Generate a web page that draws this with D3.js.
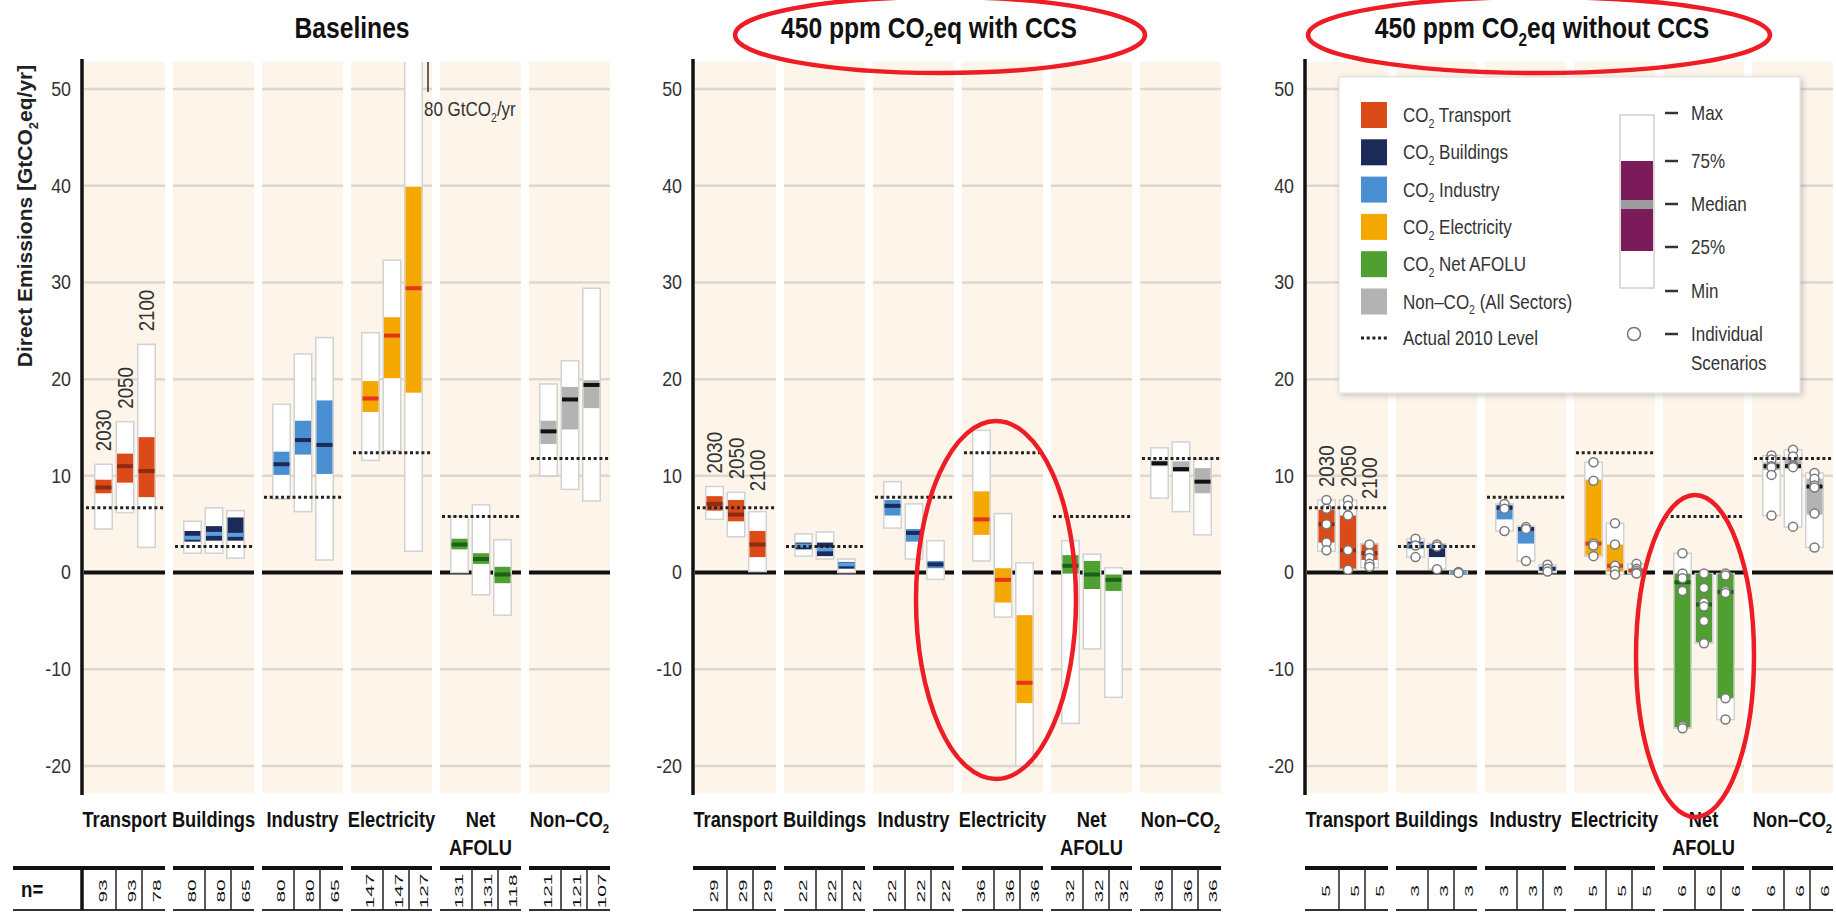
<!DOCTYPE html>
<html>
<head>
<meta charset="utf-8">
<script src="https://cdn.jsdelivr.net/npm/d3@7"></script>
<style>
  body { margin: 0; background: #fff; }
  text { font-family: "Liberation Sans", Arial, sans-serif; }
</style>
</head>
<body>
<div id="chart"></div>
<script>
// ---- data ----
const sectors = ["Transport", "Buildings", "Industry", "Electricity", "Net AFOLU", "Non-CO2"];
const sectorLabels = [["Transport"], ["Buildings"], ["Industry"], ["Electricity"], ["Net", "AFOLU"], ["Non–CO_2"]];
const years = ["2030", "2050", "2100"];
const yTicks = [50, 40, 30, 20, 10, 0, -10, -20];
const actual2010 = [6.7, 2.7, 7.8, 12.4, 5.8, 11.8];

// [min, 25%, median, 75%, max] for each sector and year
const baselineStats = [
  [[4.5, 8.2, 8.8, 9.6, 11.2], [6.2, 9.3, 11.0, 12.3, 15.6], [2.6, 7.8, 10.5, 14.0, 23.6]],
  [[2.0, 3.2, 3.6, 4.3, 5.3], [2.0, 3.3, 4.0, 4.8, 6.7], [1.5, 3.3, 3.9, 5.7, 6.4]],
  [[7.6, 10.1, 11.2, 12.5, 17.4], [6.3, 12.2, 13.7, 15.7, 22.6], [1.3, 10.2, 13.2, 17.8, 24.3]],
  [[11.6, 16.6, 18.0, 19.8, 24.8], [12.6, 20.1, 24.5, 26.4, 32.3], [2.2, 18.6, 29.4, 39.9, 80]],
  [[0.0, 2.4, 2.9, 3.5, 5.8], [-2.3, 0.9, 1.4, 2.0, 7.0], [-4.4, -1.1, -0.2, 0.6, 3.4]],
  [[10.0, 13.3, 14.6, 15.7, 19.5], [8.6, 14.8, 17.9, 19.2, 21.9], [7.4, 17.0, 19.4, 19.9, 29.4]]
];
const ccsStats = [
  [[5.5, 6.4, 7.1, 7.9, 8.9], [3.7, 5.3, 6.0, 7.5, 8.3], [0.1, 1.6, 2.9, 4.3, 6.3]],
  [[1.7, 2.4, 2.8, 3.1, 4.0], [1.4, 1.7, 2.4, 3.1, 4.2], [0.0, 0.4, 0.85, 1.1, 1.4]],
  [[4.6, 5.9, 6.9, 7.5, 9.4], [1.4, 3.2, 4.1, 4.5, 7.1], [-0.7, 0.45, 0.85, 1.2, 3.3]],
  [[1.2, 3.9, 5.5, 8.4, 14.7], [-4.6, -3.1, -0.75, 0.45, 6.1], [-20.0, -13.5, -11.4, -4.4, 1.0]],
  [[-15.6, -0.1, 0.7, 1.8, 3.3], [-7.9, -1.7, -0.2, 1.2, 1.9], [-12.9, -1.9, -0.75, -0.2, 0.5]],
  [[7.7, 11.0, 11.3, 11.6, 12.9], [6.3, 10.4, 10.7, 11.5, 13.5], [3.9, 8.2, 9.4, 10.8, 11.7]]
];
const noCcsStats = [
  [[2.2, 3.1, 5.0, 6.5, 7.5], [0.3, 0.4, 2.3, 5.9, 7.5], [0.5, 1.3, 2.0, 2.9, 3.0]],
  [[1.6, 2.5, 2.8, 3.2, 3.5], [0.35, 1.6, 2.7, 2.9, 3.0], [-0.1, -0.05, 0.0, 0.05, 0.1]],
  [[4.3, 5.5, 6.7, 7.0, 7.1], [1.2, 3.0, 4.5, 4.6, 4.8], [0.0, 0.2, 0.4, 0.6, 0.8]],
  [[1.7, 1.8, 3.0, 9.6, 11.4], [-0.2, 0.1, 0.7, 2.9, 5.1], [-0.1, 0.0, 0.2, 0.4, 0.9]],
  [[-16.1, -16.0, -1.0, -0.1, 2.0], [-7.3, -7.2, -3.3, -0.1, -0.1], [-15.2, -13.0, -2.0, -0.1, -0.1]],
  [[5.9, 10.6, 11.0, 11.4, 12.1], [4.7, 10.8, 11.0, 11.9, 12.7], [2.6, 6.0, 8.9, 9.7, 10.3]]
];
// individual scenarios, 450 ppm without CCS
const noCcsScenarios = [
  [[7.5, 6.6, 5.0, 3.1, 2.3], [7.5, 6.9, 5.9, 2.3, 0.3], [2.9, 2.0, 1.5, 0.9, 0.6]],
  [[3.5, 2.8, 1.6], [2.9, 2.7, 0.35], [0.05, 0.0, -0.05]],
  [[7.1, 6.6, 4.3], [4.7, 4.5, 1.2], [0.8, 0.4, 0.1]],
  [[11.4, 9.5, 3.0, 2.8, 1.7], [5.1, 2.9, 0.7, 0.2, -0.2], [0.9, 0.4, 0.2, 0.0, -0.1]],
  [[2.0, -0.1, -0.6, -1.9, -15.9, -16.1], [-0.1, -1.6, -3.1, -3.5, -5.0, -7.3], [-0.1, -0.3, -1.9, -2.1, -13.0, -15.2]],
  [[12.1, 11.7, 11.0, 10.9, 10.1, 5.9], [12.7, 12.0, 11.1, 11.0, 10.9, 4.75], [10.3, 9.7, 9.0, 8.8, 6.1, 2.6]]
];
const baselineN = [[93, 93, 78], [80, 80, 65], [80, 80, 65], [147, 147, 127], [131, 131, 118], [121, 121, 107]];
const ccsN = [[29, 29, 29], [22, 22, 22], [22, 22, 22], [36, 36, 36], [32, 32, 32], [36, 36, 36]];
const noCcsN = [[5, 5, 5], [3, 3, 3], [3, 3, 3], [5, 5, 5], [6, 6, 6], [6, 6, 6]];
const panelTitles = ["Baselines", "450 ppm CO_2eq with CCS", "450 ppm CO_2eq without CCS"];
const legendLabels = ["CO_2 Transport", "CO_2 Buildings", "CO_2 Industry", "CO_2 Electricity", "CO_2 Net AFOLU", "Non–CO_2 (All Sectors)"];
const boxKeyLabels = ["Max", "75%", "Median", "25%", "Min"];

// ---- styles ----
const sectorColors = ["#db4a17", "#1c2a57", "#4b8fd3", "#f5a800", "#4f9f31", "#b3b3b3"];
const medianColors = ["#8f2b12", "#5b9ee2", "#1c2a57", "#e2361d", "#1c6118", "#111111"];
const bgColor = "#fdf5ea";
const textColor = "#333";
const squeeze = 0.85;   // narrow the glyphs, the original uses a condensed face

const W = 1836, H = 912;
const svg = d3.select("#chart").append("svg")
  .attr("width", W).attr("height", H).attr("viewBox", `0 0 ${W} ${H}`);

// text with "_2" turned into a subscript 2
const richText = (sel, str, fs) => {
  str.split("_2").forEach((part, i) => {
    if (i > 0) {
      sel.append("tspan").attr("font-size", fs * 0.62).attr("dy", fs * 0.28).text("2");
      if (part !== "") sel.append("tspan").attr("dy", -fs * 0.28).text(part);
    } else if (part !== "") {
      sel.append("tspan").text(part);
    }
  });
  return sel;
};

// condensed text placed at x,y (optionally rotated)
const label = (parent, x, y, str, o = {}) => {
  const fs = o.size || 20;
  const sx = o.sx || squeeze;
  const t = parent.append("text")
    .attr("transform", `translate(${x},${y})${o.rotate ? ` rotate(${o.rotate})` : ""} scale(${sx},${o.sy || 1})`)
    .attr("font-size", fs)
    .attr("font-weight", o.weight || "normal")
    .attr("text-anchor", o.anchor || "start")
    .attr("fill", o.fill || textColor);
  return richText(t, String(str), fs);
};

const plotTop = 62, plotBottom = 793;
const y = d3.scaleLinear().domain([-20, 50]).range([766, 89]);
const axisXs = [82, 693, 1305];
const yearX = d3.scalePoint().domain(years).range([19.5, 62.5]);
const boxW = 17.5;
const tableTop = 868, tableBottom = 910;

const defs = svg.append("defs");
defs.append("clipPath").attr("id", "plotClip")
  .append("rect").attr("x", 0).attr("y", plotTop).attr("width", W).attr("height", plotBottom - plotTop);
defs.append("filter").attr("id", "shadow").attr("x", "-5%").attr("y", "-5%").attr("width", "112%").attr("height", "115%")
  .append("feDropShadow").attr("dx", 2).attr("dy", 2).attr("stdDeviation", 3).attr("flood-opacity", 0.22);

const panels = [
  {title: panelTitles[0], titleX: 352, stats: baselineStats, n: baselineN, points: null},
  {title: panelTitles[1], titleX: 929, stats: ccsStats, n: ccsN, points: null},
  {title: panelTitles[2], titleX: 1542, stats: noCcsStats, n: noCcsN, points: noCcsScenarios}
];

panels.forEach((panel, pi) => {
  const x0 = axisXs[pi];
  const xCol = d3.scaleBand().domain(sectors).range([x0 + 2, x0 + 528]).paddingInner(8 / 89);
  const bw = xCol.bandwidth();
  const g = svg.append("g");

  label(g, panel.titleX, 38, panel.title, {size: 29, weight: "bold", anchor: "middle", fill: "#111"});

  // sector columns
  g.selectAll(".col").data(sectors).join("rect")
    .attr("x", d => xCol(d)).attr("y", plotTop)
    .attr("width", bw).attr("height", plotBottom - plotTop)
    .attr("fill", bgColor);

  sectors.forEach(s => {
    g.selectAll(null).data(yTicks.filter(t => t !== 0)).join("line")
      .attr("x1", xCol(s)).attr("x2", xCol(s) + bw)
      .attr("y1", d => y(d)).attr("y2", d => y(d))
      .attr("stroke", "#dcd7cf").attr("stroke-width", 2.5);
    g.append("line")
      .attr("x1", xCol(s)).attr("x2", xCol(s) + bw)
      .attr("y1", y(0)).attr("y2", y(0))
      .attr("stroke", "#111").attr("stroke-width", 4);
  });

  // y axis
  const axis = g.append("g").attr("transform", `translate(${x0},0)`)
    .call(d3.axisLeft(y).tickValues(yTicks).tickSize(0).tickPadding(0).tickFormat(d => d));
  axis.select(".domain").remove();
  axis.selectAll("text")
    .attr("x", 0).attr("dy", "0.3em")
    .attr("transform", `translate(-11,0) scale(${squeeze},1)`)
    .attr("font-size", 21).attr("fill", textColor);
  g.append("line").attr("x1", x0).attr("x2", x0).attr("y1", plotTop - 3).attr("y2", plotBottom + 2)
    .attr("stroke", "#111").attr("stroke-width", 3.5);

  // boxes
  const boxes = g.append("g").attr("clip-path", "url(#plotClip)");
  let prevLabel = Infinity;
  sectors.forEach((s, si) => {
    years.forEach((yr, yi) => {
      const [mn, q1, md, q3, mx] = panel.stats[si][yi];
      const cx = xCol(s) + yearX(yr);
      boxes.append("rect")
        .attr("x", cx - boxW / 2).attr("y", y(mx))
        .attr("width", boxW).attr("height", Math.max(y(mn) - y(mx), 1.5))
        .attr("fill", "#fff").attr("stroke", "#d2d2d2").attr("stroke-width", 1.5);
      boxes.append("rect")
        .attr("x", cx - boxW / 2 + 0.75).attr("y", y(q3))
        .attr("width", boxW - 1.5).attr("height", Math.max(y(q1) - y(q3), 1))
        .attr("fill", sectorColors[si]);
      boxes.append("rect")
        .attr("x", cx - boxW / 2 + 0.75).attr("y", y(md) - 2)
        .attr("width", boxW - 1.5).attr("height", 4)
        .attr("fill", medianColors[si]);
      if (panel.points) {
        boxes.selectAll(null).data(panel.points[si][yi]).join("circle")
          .attr("cx", cx).attr("cy", d => y(d)).attr("r", 4.5)
          .attr("fill", "#fff").attr("stroke", "#7a7a7a").attr("stroke-width", 1.5);
      }
      if (si === 0) {
        // year labels stacked above the transport boxes
        const ly = Math.min(Math.max(y(mx), plotTop) - 13, prevLabel + 12);
        prevLabel = ly;
        label(g, cx + 7.5, ly, yr, {size: 22, rotate: -90});
      }
    });
    // actual 2010 level
    g.append("line")
      .attr("x1", xCol(s) + 2).attr("x2", xCol(s) + bw - 1)
      .attr("y1", y(actual2010[si])).attr("y2", y(actual2010[si]))
      .attr("stroke", "#222").attr("stroke-width", 3).attr("stroke-dasharray", "3,2.7");

    // sector label
    sectorLabels[si].forEach((line, li) => {
      label(g, xCol(s) + bw / 2, 827 + li * 28, line, {size: 21.5, weight: "bold", anchor: "middle", fill: "#111"});
    });

    // n= table
    const segStart = si === 0 ? (pi === 0 ? 13 : x0) : xCol(s);
    g.append("line").attr("x1", segStart).attr("x2", xCol(s) + bw)
      .attr("y1", tableTop).attr("y2", tableTop).attr("stroke", "#111").attr("stroke-width", 4);
    g.append("line").attr("x1", segStart).attr("x2", xCol(s) + bw)
      .attr("y1", tableBottom).attr("y2", tableBottom).attr("stroke", "#333").attr("stroke-width", 2);
    const cuts = [0, 32, 58, bw];
    [32, 58].forEach(c => {
      g.append("line").attr("x1", xCol(s) + c).attr("x2", xCol(s) + c)
        .attr("y1", tableTop).attr("y2", tableBottom).attr("stroke", "#222").attr("stroke-width", 1.5);
    });
    panel.n[si].forEach((v, vi) => {
      const cx = xCol(s) + (cuts[vi] + cuts[vi + 1]) / 2 + 3;
      label(g, cx + 4, (tableTop + tableBottom) / 2 + 2, v,
        {size: 13, rotate: -90, sx: 1.6, sy: 0.88, anchor: "middle", fill: "#111"});
    });
  });

  if (pi === 0) {
    g.append("line").attr("x1", x0).attr("x2", x0).attr("y1", tableTop).attr("y2", tableBottom)
      .attr("stroke", "#111").attr("stroke-width", 3.5);
    label(g, 21, 897, "n=", {size: 22, weight: "bold", fill: "#111"});
    // off-scale maximum of the 2100 electricity baseline
    const ex = xCol("Electricity") + bw - 4;
    g.append("line").attr("x1", ex).attr("x2", ex).attr("y1", plotTop).attr("y2", 92)
      .attr("stroke", "#333").attr("stroke-width", 1.5);
    label(g, ex - 4, 116, "80 GtCO_2/yr", {size: 20});
    // y axis title
    label(g, 32, 216, "Direct Emissions [GtCO_2eq/yr]",
      {size: 21, weight: "bold", rotate: -90, anchor: "middle", sx: 1, fill: "#222"});
  }
});

// ---- legend ----
const lg = svg.append("g");
lg.append("rect").attr("x", 1339).attr("y", 77).attr("width", 461).attr("height", 316)
  .attr("fill", "#fff").attr("stroke", "#dedede").attr("stroke-width", 1).attr("filter", "url(#shadow)");
legendLabels.forEach((lab, i) => {
  const cy = 115 + i * 37.3;
  lg.append("rect").attr("x", 1361).attr("y", cy - 13).attr("width", 26).attr("height", 26)
    .attr("fill", sectorColors[i]);
  label(lg, 1403, cy + 7, lab, {size: 20});
});
lg.append("line").attr("x1", 1361).attr("x2", 1389).attr("y1", 338).attr("y2", 338)
  .attr("stroke", "#222").attr("stroke-width", 3).attr("stroke-dasharray", "3,2.7");
label(lg, 1403, 345, "Actual 2010 Level", {size: 20});

const keyY = [113, 161, 204, 247, 291];
lg.append("rect").attr("x", 1620).attr("y", 115).attr("width", 34).attr("height", 173)
  .attr("fill", "#fff").attr("stroke", "#cfcfcf").attr("stroke-width", 1.5);
lg.append("rect").attr("x", 1621).attr("y", 161).attr("width", 32).attr("height", 90).attr("fill", "#7c1b5a");
lg.append("rect").attr("x", 1621).attr("y", 200).attr("width", 32).attr("height", 9).attr("fill", "#9c9c9c");
boxKeyLabels.forEach((lab, i) => {
  lg.append("line").attr("x1", 1665).attr("x2", 1678).attr("y1", keyY[i]).attr("y2", keyY[i])
    .attr("stroke", "#333").attr("stroke-width", 2.5);
  label(lg, 1691, keyY[i] + 7, lab, {size: 20});
});
lg.append("circle").attr("cx", 1634).attr("cy", 334).attr("r", 6.5)
  .attr("fill", "#fff").attr("stroke", "#777").attr("stroke-width", 1.5);
lg.append("line").attr("x1", 1665).attr("x2", 1678).attr("y1", 334).attr("y2", 334)
  .attr("stroke", "#333").attr("stroke-width", 2.5);
label(lg, 1691, 341, "Individual", {size: 20});
label(lg, 1691, 370, "Scenarios", {size: 20});

// ---- red highlight ellipses ----
const ellipses = [
  {cx: 940, cy: 35, rx: 205, ry: 38},
  {cx: 1539, cy: 35, rx: 231, ry: 38},
  {cx: 996, cy: 600, rx: 80, ry: 179},
  {cx: 1695, cy: 656, rx: 59, ry: 161}
];
svg.selectAll(".hl").data(ellipses).join("ellipse")
  .attr("cx", d => d.cx).attr("cy", d => d.cy).attr("rx", d => d.rx).attr("ry", d => d.ry)
  .attr("fill", "none").attr("stroke", "#ee1c24").attr("stroke-width", 4.5);
</script>
</body>
</html>
